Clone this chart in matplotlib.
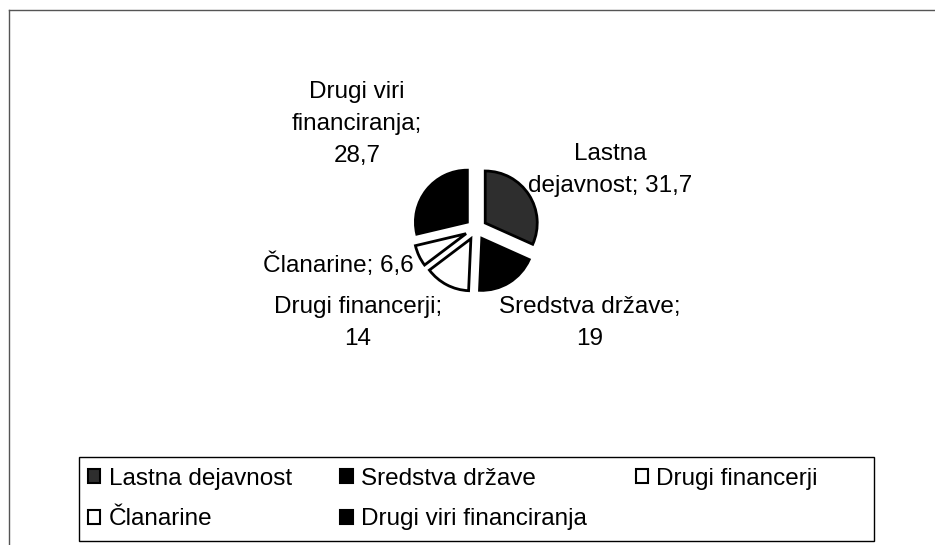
import matplotlib.pyplot as plt
from matplotlib.patches import Patch, Rectangle
from matplotlib.lines import Line2D

plt.rcParams['font.family'] = ['Liberation Sans', 'DejaVu Sans']

# data
names = ['Lastna dejavnost', 'Sredstva države', 'Drugi financerji', 'Članarine', 'Drugi viri financiranja']
values = [31.7, 19, 14, 6.6, 28.7]
# how each data label is broken into lines in the original
label_names = ['Lastna\ndejavnost;', 'Sredstva države;\n', 'Drugi financerji;\n', 'Članarine;', 'Drugi viri\nfinanciranja;\n']
colors = ['#2e2e2e', 'black', 'white', 'white', 'black']

W, H = 935, 545
fs = 17.5
fig = plt.figure(figsize=(W / 100, H / 100), dpi=100)
ax = fig.add_axes([0, 0, 1, 1])
ax.axis('off')

# outer frame (only left and top visible in the scan)
fig.add_artist(Line2D([9 / W, 9 / W], [0, 1 - 10 / H], color='#555555', lw=1))
fig.add_artist(Line2D([9 / W, 1], [1 - 10 / H, 1 - 10 / H], color='#555555', lw=1))

cx, cy, r = 476, H - 229, 52
wedges, _ = ax.pie(values, colors=colors, startangle=90, counterclock=False,
                   radius=r, center=(cx, cy), explode=[11] * len(values),
                   wedgeprops=dict(edgecolor='black', linewidth=2))
ax.set_xlim(0, W)
ax.set_ylim(0, H)
ax.set_aspect('equal')

def fmt(v):
    return ('%g' % v).replace('.', ',')

# label positions (pixels) and alignment
pos = [(610, 170, 'center'), (590, 323, 'center'), (358, 323, 'center'),
       (414, 265, 'right'), (357, 124, 'center')]
for n, v, (x, y, ha) in zip(label_names, values, pos):
    sep = '' if n.endswith('\n') else ' '
    ax.text(x, H - y, n + sep + fmt(v), ha=ha, va='center', fontsize=fs,
            linespacing=1.6, multialignment='center')

# legend frame
fig.add_artist(Rectangle((79 / W, 1 - 541 / H), (874 - 79) / W, (541 - 457) / H,
                         transform=fig.transFigure, fill=False, edgecolor='black', lw=1))

# legend in original row order
order = [0, 3, 1, 4, 2]
handles = [Patch(facecolor=colors[i], edgecolor='black', linewidth=1.5) for i in order]
labels = [names[i] for i in order]
leg = fig.legend(handles, labels, ncol=3, loc='upper left',
                 bbox_to_anchor=(88 / W, 1 - 468 / H), frameon=False, fontsize=fs,
                 handlelength=0.5, handleheight=0.5, handletextpad=0.35,
                 columnspacing=2.0, borderpad=0, labelspacing=0.75, borderaxespad=0)

fig.savefig('out.png', dpi=100)
